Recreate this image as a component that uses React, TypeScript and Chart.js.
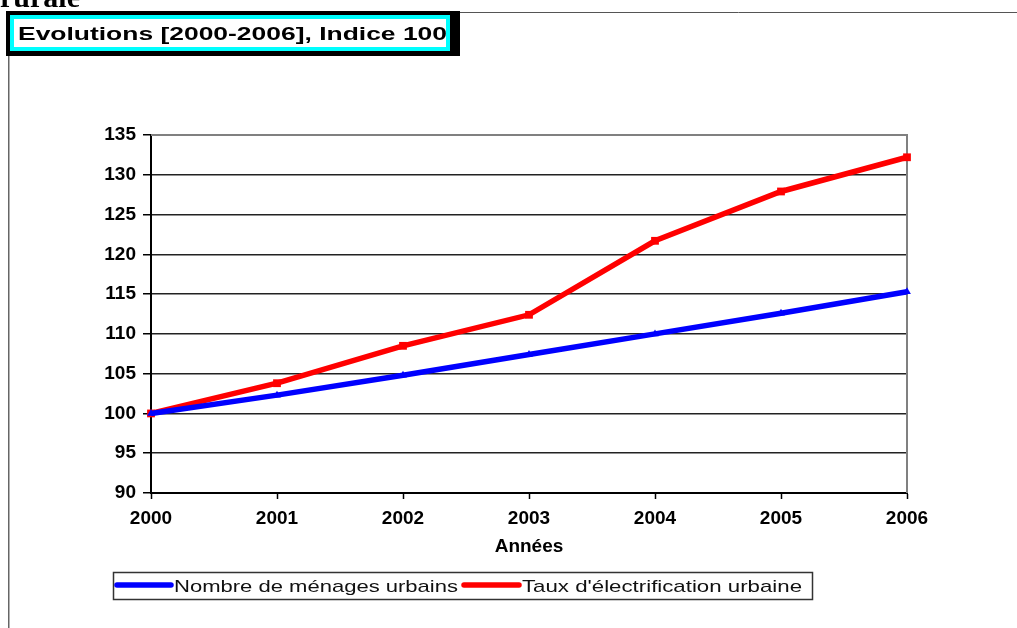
import React, { useEffect, useRef } from "react";
import { Chart, registerables } from "chart.js";

Chart.register(...registerables);

const years = ["2000", "2001", "2002", "2003", "2004", "2005", "2006"];
const menagesUrbains = [100, 102.3, 104.8, 107.4, 110.0, 112.6, 115.3];
const electrificationUrbaine = [100, 103.8, 108.5, 112.4, 121.7, 127.9, 132.2];
const seriesLabels = ["Nombre de ménages urbains", "Taux d'électrification urbaine"];
const chartTitle = "Evolutions [2000-2006], Indice 100";
const headerFragment = "rurale";
const xAxisTitle = "Années";

function fitText(ctx: CanvasRenderingContext2D, text: string, x: number, y: number, width: number, font: string, color: string) {
  ctx.save();
  ctx.font = font;
  ctx.fillStyle = color;
  ctx.textBaseline = "alphabetic";
  ctx.textAlign = "left";
  const w = ctx.measureText(text).width;
  ctx.translate(x, y);
  ctx.scale(width / w, 1);
  ctx.fillText(text, 0, 0);
  ctx.restore();
}

const decorPlugin = {
  id: "decor",
  beforeDatasetsDraw(chart: any) {
    const ctx = chart.ctx as CanvasRenderingContext2D;
    const a = chart.chartArea;
    ctx.save();
    ctx.strokeStyle = "#808080";
    ctx.lineWidth = 2;
    ctx.beginPath();
    ctx.moveTo(a.left, a.top);
    ctx.lineTo(a.right, a.top);
    ctx.lineTo(a.right, a.bottom);
    ctx.stroke();
    ctx.restore();
  },
  afterDraw(chart: any) {
    const ctx = chart.ctx as CanvasRenderingContext2D;
    ctx.save();
    fitText(ctx, headerFragment, 0, 7, 80, "bold 28px 'Liberation Serif'", "#000");
    ctx.strokeStyle = "#555";
    ctx.lineWidth = 1;
    ctx.beginPath();
    ctx.moveTo(460, 12.5);
    ctx.lineTo(1017, 12.5);
    ctx.stroke();
    ctx.strokeStyle = "#666";
    ctx.lineWidth = 1.5;
    ctx.beginPath();
    ctx.moveTo(8.75, 56);
    ctx.lineTo(8.75, 628);
    ctx.stroke();
    ctx.fillStyle = "#000";
    ctx.fillRect(6, 11, 454, 45);
    ctx.fillStyle = "#00FFFF";
    ctx.fillRect(10, 15, 440, 36);
    ctx.fillStyle = "#fff";
    ctx.fillRect(14, 19, 432, 28);
    fitText(ctx, chartTitle, 18, 40, 429, "bold 18px 'Liberation Sans'", "#000");

    const ds = chart.data.datasets;
    ctx.fillStyle = "#fff";
    ctx.fillRect(113, 572, 700, 28);
    ctx.strokeStyle = "#333";
    ctx.lineWidth = 1.5;
    ctx.strokeRect(113.5, 572.5, 699, 27);
    const items = [
      { x0: 117, x1: 171, tx: 174, tw: 284 },
      { x0: 464, x1: 519, tx: 522, tw: 280 },
    ];
    items.forEach((it, i) => {
      const d = ds[i];
      ctx.strokeStyle = d.borderColor;
      ctx.lineWidth = 5.5;
      ctx.lineCap = "round";
      ctx.beginPath();
      ctx.moveTo(it.x0, 585);
      ctx.lineTo(it.x1, 585);
      ctx.stroke();
      fitText(ctx, d.label, it.tx, 592, it.tw, "17px 'Liberation Sans'", "#111");
    });
    ctx.restore();
  },
};

export default function App() {
  const ref = useRef<HTMLCanvasElement | null>(null);
  useEffect(() => {
    if (!ref.current) return;
    const tickFont = { family: "'Liberation Sans'", size: 19, weight: "bold" as const };
    const chart = new Chart(ref.current, {
      type: "line",
      data: {
        labels: years,
        datasets: [
          {
            label: seriesLabels[0],
            data: menagesUrbains,
            borderColor: "#0000FF",
            backgroundColor: "#0000FF",
            borderWidth: 5.5,
            pointStyle: "triangle",
            pointRadius: 4.5,
            pointBorderWidth: 0,
            tension: 0,
            clip: false as any,
          },
          {
            label: seriesLabels[1],
            data: electrificationUrbaine,
            borderColor: "#FF0000",
            backgroundColor: "#FF0000",
            borderWidth: 5.5,
            pointStyle: "rect",
            pointRadius: 5.5,
            pointBorderWidth: 0,
            tension: 0,
            clip: false as any,
          },
        ],
      },
      options: {
        animation: false,
        responsive: false,
        layout: { padding: { left: 20, right: 110, top: 135, bottom: 66 } },
        plugins: {
          legend: { display: false },
          tooltip: { enabled: false },
          title: { display: false },
        },
        scales: {
          x: {
            type: "category",
            offset: false,
            grid: {
              display: true,
              drawOnChartArea: false,
              drawTicks: true,
              tickLength: 6,
              tickColor: "#000",
              tickWidth: 1.5,
            },
            border: { display: true, color: "#000", width: 2 },
            ticks: {
              color: "#000",
              padding: 8,
              maxRotation: 0,
              autoSkip: false,
              font: tickFont,
            },
            title: {
              display: true,
              text: xAxisTitle,
              color: "#000",
              padding: { top: 4, bottom: 4 },
              font: tickFont,
            },
            afterFit: (s: any) => {
              s.height = 69;
              s.paddingLeft = 0;
              s.paddingRight = 0;
            },
          },
          y: {
            min: 90,
            max: 135,
            ticks: {
              stepSize: 5,
              color: "#000",
              padding: 7,
              font: tickFont,
            },
            grid: {
              color: "#222",
              lineWidth: 1.5,
              drawTicks: true,
              tickLength: 8,
              tickColor: "#000",
            },
            border: { display: true, color: "#000", width: 2 },
            afterFit: (s: any) => {
              s.width = 131;
              s.paddingTop = 0;
              s.paddingBottom = 0;
            },
          },
        },
      },
      plugins: [decorPlugin],
    });
    return () => chart.destroy();
  }, []);
  return (
    <div style={{ position: "absolute", left: 0, top: 0, width: 1017, height: 628, background: "#fff" }}>
      <canvas ref={ref} width={1017} height={628} style={{ display: "block" }} />
    </div>
  );
}
